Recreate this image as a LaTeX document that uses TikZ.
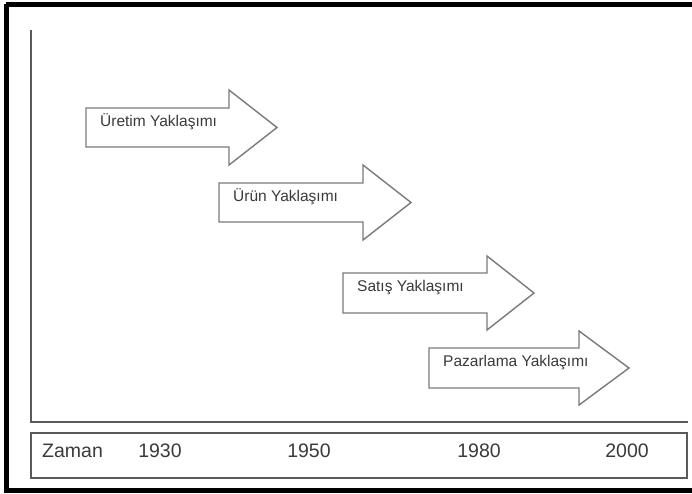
\documentclass[tikz,border=0pt]{standalone}
\usepackage{fontspec}
\setmainfont{Liberation Sans}
\definecolor{axisgray}{HTML}{5A5A5A}
\definecolor{arrowgray}{HTML}{7A7A7A}
\definecolor{textgray}{HTML}{3A3A3A}
\begin{document}
\begin{tikzpicture}[x=1pt,y=-1pt,
  frame/.style={draw=black,line width=5pt},
  axis/.style={draw=axisgray,line width=1.6pt},
  blockarrow/.style={draw=arrowgray,line width=1.4pt,fill=white,line join=miter},
  arrowlabel/.style={anchor=west,inner sep=0pt,text=textgray,font=\fontsize{15.5}{18}\selectfont},
  timelabel/.style={inner sep=0pt,text=textgray,font=\fontsize{19.5}{22}\selectfont}]
\useasboundingbox (0,0) rectangle (692,493);
\fill[white] (0,0) rectangle (692,493);
% outer frame (right side runs past the page edge)
\draw[frame] (6,4) -- (697,4) (697,490) -- (6,490) -- (6,4);
% axes
\coordinate (origin) at (31,422);
\coordinate (ytop) at (31,30);
\coordinate (xend) at (688,422);
\draw[axis] (ytop) -- (origin) -- (xend);
% time strip
\draw[axis] (31,433) rectangle (687,478);
\node[timelabel,anchor=west] (zaman) at (42,451) {Zaman};
\node[timelabel] (y1930) at (160,451) {1930};
\node[timelabel] (y1950) at (309,451) {1950};
\node[timelabel] (y1980) at (479,451) {1980};
\node[timelabel] (y2000) at (627,451) {2000};
% block arrows
\draw[blockarrow] (86,108) -- (229,108) -- (229,90) -- (277,127.5) -- (229,165) -- (229,147) -- (86,147) -- cycle;
\node[arrowlabel] (uretim) at (100,122) {Üretim Yaklaşımı};
\draw[blockarrow] (219,183) -- (363,183) -- (363,165) -- (411,202.5) -- (363,240) -- (363,222) -- (219,222) -- cycle;
\node[arrowlabel] (urun) at (233,197) {Ürün Yaklaşımı};
\draw[blockarrow] (343,273) -- (487,273) -- (487,256) -- (534,293) -- (487,330) -- (487,313) -- (343,313) -- cycle;
\node[arrowlabel] (satis) at (357,288) {Satış Yaklaşımı};
\draw[blockarrow] (429,348) -- (579,348) -- (579,331) -- (629,368) -- (579,405) -- (579,388) -- (429,388) -- cycle;
\node[arrowlabel] (pazarlama) at (443,363) {Pazarlama Yaklaşımı};
\end{tikzpicture}
\end{document}
